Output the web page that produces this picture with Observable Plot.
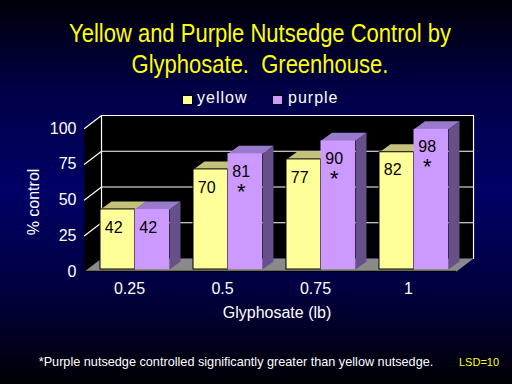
<!DOCTYPE html>
<html>
<head>
<meta charset="utf-8">
<script src="https://cdn.jsdelivr.net/npm/d3@7"></script>
<script src="https://cdn.jsdelivr.net/npm/@observablehq/plot@0.6"></script>
<style>
  html, body { margin: 0; padding: 0; }
  #page {
    position: relative; width: 512px; height: 384px; overflow: hidden;
    background: linear-gradient(to bottom, #000008 0%, #00004a 25%, #000066 50%, #000040 75%, #000004 100%);
    font-family: "Liberation Sans", Arial, sans-serif;
  }
  #chart { position: absolute; left: 0; top: 0; }
  .abs { position: absolute; white-space: nowrap; }
  #title { left: 0; width: 520px; top: 18px; text-align: center; color: #FFFF00; font-size: 25px; line-height: 31px; transform: scaleX(0.88); transform-origin: 260px 0; }
  .sw { position: absolute; width: 9px; height: 8px; border: 1px solid #000; }
  .leg { color: #fff; font-size: 16px; line-height: 16px; letter-spacing: 1px; }
</style>
</head>
<body>
<div id="page">
  <div id="chart"></div>
  <div id="title" class="abs">Yellow and Purple Nutsedge Control by<br>Glyphosate.&nbsp; Greenhouse.</div>
  <div id="legend"></div>
  <div class="abs" style="left:34px; top:202px; color:#fff; font-size:16px; line-height:16px; transform: translate(-50%,-50%) rotate(-90deg);">% control</div>
  <div class="abs" style="left:277px; top:305px; color:#fff; font-size:16px; line-height:16px; transform: translateX(-50%);">Glyphosate (lb)</div>
  <div class="abs" style="left:236px; top:355px; color:#fff; font-size:13px; line-height:13px; transform: translateX(-50%) scaleX(0.975);">*Purple nutsedge controlled significantly greater than yellow nutsedge.</div>
  <div class="abs" style="left:459px; top:357px; color:#FFFF00; font-size:11px; line-height:11px;">LSD=10</div>
</div>
<script>
// ---- data ----
const doses = ["0.25", "0.5", "0.75", "1"];
const yellow = [42, 70, 77, 82];
const purple = [42, 81, 90, 98];
const purpleSignificant = [false, true, true, true];
const seriesNames = ["yellow", "purple"];
const seriesFront = ["#FFFF99", "#CC99FF"];
const seriesTop = ["#C4C27A", "#9A7ACC"];
const seriesSide = ["#8C8C5A", "#66508A"];
const yTicks = [0, 25, 50, 75, 100];

// ---- 3D geometry (style constants) ----
const xOff = [0.172, 0.543];  // bar offsets inside each dose band
const bw = 0.371;              // bar width (band units)
const bdx = 0.118, bdy = 5.6;  // bar depth
const wdx = 0.183, wdy = 9.1;  // wall depth
const n = doses.length;
const yMax = yTicks[yTicks.length - 1];

const bars = [];
doses.forEach((d, i) => {
  [yellow[i], purple[i]].forEach((v, s) => {
    const x0 = i + xOff[s], x1 = x0 + bw;
    bars.push({i, s, v, x0, x1, sig: s === 1 && purpleSignificant[i]});
  });
});

function tops(s) {
  const pts = [];
  bars.filter(b => b.s === s).forEach((b, k) => {
    [[b.x0, b.v], [b.x1, b.v], [b.x1 + bdx, b.v + bdy], [b.x0 + bdx, b.v + bdy]]
      .forEach(([x, y]) => pts.push({x, y, id: k}));
  });
  return pts;
}
function sides(s) {
  const pts = [];
  bars.filter(b => b.s === s).forEach((b, k) => {
    [[b.x1, 0], [b.x1, b.v], [b.x1 + bdx, b.v + bdy], [b.x1 + bdx, bdy]]
      .forEach(([x, y]) => pts.push({x, y, id: k}));
  });
  return pts;
}
const floor = [[0, 0], [n, 0], [n + wdx, wdy], [wdx, wdy]].map(([x, y]) => ({x, y}));
const leftWall = [[0, 0], [wdx, wdy], [wdx, yMax + wdy], [0, yMax]].map(([x, y]) => ({x, y}));
const grid = [];
yTicks.filter(t => t > 0).forEach(t => {
  [[0, t], [wdx, t + wdy], [n + wdx, t + wdy]].forEach(([x, y]) => grid.push({x, y, id: t}));
});
const wallEdges = [wdx, n + wdx].flatMap((x, k) => [{x, y: wdy, id: k}, {x, y: yMax + wdy, id: k}]);

const chart = Plot.plot({
  width: 512, height: 384,
  marginLeft: 84, marginRight: 56, marginTop: 128, marginBottom: 113,
  style: {background: "transparent", color: "#fff", fontSize: "16px", fontFamily: "'Liberation Sans', Arial, sans-serif"},
  x: {domain: [0, n], axis: null},
  y: {domain: [0, yMax], ticks: yTicks, tickSize: 0, tickPadding: 8, label: null},
  marks: [
    Plot.line(leftWall, {x: "x", y: "y", fill: "#000", stroke: "none"}),
    Plot.rect([0], {x1: wdx, x2: n + wdx, y1: wdy, y2: yMax + wdy, fill: "#000"}),
    Plot.line(floor, {x: "x", y: "y", fill: "#8A8A8A", stroke: "none"}),
    Plot.line(grid, {x: "x", y: "y", z: "id", stroke: "#fff", strokeWidth: 1.2}),
    Plot.line(wallEdges, {x: "x", y: "y", z: "id", stroke: "#fff", strokeWidth: 1.2}),
    Plot.ruleY([0], {x1: 0, x2: n, stroke: "#000", strokeWidth: 1.5}),
    Plot.line(sides(0), {x: "x", y: "y", z: "id", fill: seriesSide[0], stroke: "none", dy: -2}),
    Plot.line(sides(1), {x: "x", y: "y", z: "id", fill: seriesSide[1], stroke: "none", dy: -2}),
    Plot.line(tops(0), {x: "x", y: "y", z: "id", fill: seriesTop[0], stroke: "none", dy: -2}),
    Plot.line(tops(1), {x: "x", y: "y", z: "id", fill: seriesTop[1], stroke: "none", dy: -2}),
    Plot.rect(bars.filter(b => b.s === 0), {x1: "x0", x2: "x1", y1: 0, y2: "v", fill: seriesFront[0], stroke: "#000", strokeWidth: 1, dy: -2}),
    Plot.rect(bars.filter(b => b.s === 1), {x1: "x0", x2: "x1", y1: 0, y2: "v", fill: seriesFront[1], dy: -2}),
    Plot.text(bars, {x: b => (b.x0 + b.x1) / 2, y: "v", text: b => String(b.v), fill: "#000", fontSize: 16, lineAnchor: "middle", dx: -4, dy: 16}),
    Plot.text(bars.filter(b => b.sig), {x: b => (b.x0 + b.x1) / 2, y: "v", text: () => "*", fill: "#000", fontSize: 22, lineAnchor: "middle", dx: -4, dy: 36}),
    Plot.text(doses, {x: (d, i) => i + 0.5, y: () => 0, text: d => d, fill: "#fff", fontSize: 16, lineAnchor: "middle", dx: -1.5, dy: 17})
  ]
});
document.getElementById("chart").appendChild(chart);

// legend built from series arrays
const legend = document.getElementById("legend");
const legPos = [[182, 197], [272, 288]];
seriesNames.forEach((name, s) => {
  const sw = document.createElement("div");
  sw.className = "sw";
  sw.style.left = legPos[s][0] + "px"; sw.style.top = "95px"; sw.style.background = seriesFront[s];
  legend.appendChild(sw);
  const t = document.createElement("div");
  t.className = "abs leg";
  t.style.left = legPos[s][1] + "px"; t.style.top = "90px";
  t.textContent = name;
  legend.appendChild(t);
});
</script>
</body>
</html>
